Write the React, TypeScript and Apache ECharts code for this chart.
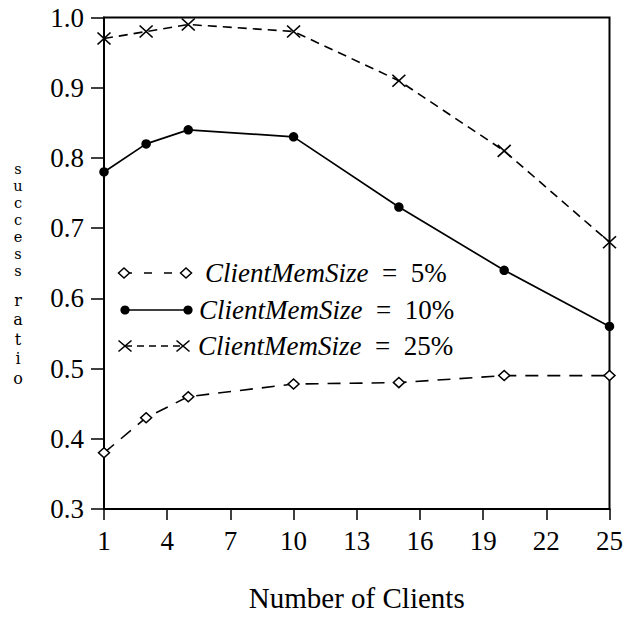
import React, { useEffect, useRef } from "react";
import * as echarts from "echarts";

const clients = [1, 3, 5, 10, 15, 20, 25];
const mem5 = [0.38, 0.43, 0.46, 0.478, 0.48, 0.49, 0.49];
const mem10 = [0.78, 0.82, 0.84, 0.83, 0.73, 0.64, 0.56];
const mem25 = [0.97, 0.98, 0.99, 0.98, 0.91, 0.81, 0.68];
const xTicks = [1, 4, 7, 10, 13, 16, 19, 22, 25];
const legendLabels = ["= 5%", "= 10%", "= 25%"];
const legendName = "ClientMemSize";
const xTitle = "Number of Clients";
const yTitleWords = ["success", "ratio"];

const FONT = "'Liberation Serif', 'Times New Roman', serif";
const YFONT = "'DejaVu Serif', 'Liberation Serif', serif";
const X_SYMBOL = "path://M0,0L10,10M0,10L10,0";

export default function App() {
  const ref = useRef<HTMLDivElement>(null);
  useEffect(() => {
    document.body.style.margin = "0";
    const chart = echarts.init(ref.current!, null, { renderer: "svg" });
    const toPairs = (vals: number[]) => clients.map((c, i) => [c, vals[i]]);

    const rows = [
      { y: 273, x0: 124, x1: 186, tx: 205 },
      { y: 310, x0: 125, x1: 188, tx: 199 },
      { y: 346, x0: 125, x1: 183, tx: 198 },
    ];
    const diamond = (cx: number, cy: number) => ({
      type: "polygon",
      shape: { points: [[cx - 5.5, cy], [cx, cy - 5], [cx + 5.5, cy], [cx, cy + 5]] },
      style: { fill: "#fff", stroke: "#000", lineWidth: 1.5 },
      z: 10,
    });
    const dot = (cx: number, cy: number) => ({
      type: "circle",
      shape: { cx, cy, r: 4.6 },
      style: { fill: "#000" },
      z: 10,
    });
    const cross = (cx: number, cy: number) => ({
      type: "group",
      z: 10,
      children: [
        { type: "line", shape: { x1: cx - 6.5, y1: cy - 5.5, x2: cx + 6.5, y2: cy + 5.5 }, style: { stroke: "#000", lineWidth: 1.6 } },
        { type: "line", shape: { x1: cx - 6.5, y1: cy + 5.5, x2: cx + 6.5, y2: cy - 5.5 }, style: { stroke: "#000", lineWidth: 1.6 } },
      ],
    });
    const markers = [diamond, dot, cross];
    const dashes: any[] = [[8, 12], null, [7, 5]];
    const legendGraphics: any[] = [];
    rows.forEach((r, i) => {
      legendGraphics.push({
        type: "line",
        shape: { x1: r.x0, y1: r.y, x2: r.x1, y2: r.y },
        style: { stroke: "#000", lineWidth: 1.6, lineDash: dashes[i] || undefined },
      });
      legendGraphics.push(markers[i](r.x0, r.y));
      legendGraphics.push(markers[i](r.x1, r.y));
      legendGraphics.push({
        type: "text",
        x: r.tx,
        y: r.y,
        style: {
          text: `{i|${legendName}}{n|  ${legendLabels[i].replace("= ", "=  ")}}`,
          verticalAlign: "middle",
          fill: "#000",
          rich: {
            i: { fontFamily: FONT, fontSize: 27, fontStyle: "italic", fill: "#000" },
            n: { fontFamily: FONT, fontSize: 27, fill: "#000" },
          },
        },
      });
    });

    chart.setOption({
      animation: false,
      backgroundColor: "#fff",
      grid: {
        left: 104,
        right: 14,
        top: 17.5,
        bottom: 87.5,
        show: true,
        borderColor: "#000",
        borderWidth: 2,
        containLabel: false,
      },
      xAxis: {
        type: "value",
        min: 1,
        max: 25,
        name: xTitle,
        nameLocation: "middle",
        nameGap: 74,
        nameTextStyle: { fontFamily: FONT, fontSize: 29, color: "#000" },
        axisLine: { lineStyle: { color: "#000", width: 2 } },
        axisTick: { customValues: xTicks, length: 11, lineStyle: { color: "#000", width: 1.5 } },
        axisLabel: {
          customValues: xTicks,
          fontFamily: FONT,
          fontSize: 27,
          color: "#000",
          margin: 18,
        },
        splitLine: { show: false },
      },
      yAxis: {
        type: "value",
        min: 0.3,
        max: 1.0,
        interval: 0.1,
        axisLine: { lineStyle: { color: "#000", width: 2 } },
        axisTick: { length: 13, lineStyle: { color: "#000", width: 1.5 } },
        axisLabel: {
          fontFamily: FONT,
          fontSize: 27,
          color: "#000",
          margin: 20,
          formatter: (v: number) => v.toFixed(1),
        },
        splitLine: { show: false },
      },
      series: [
        {
          name: `${legendName} ${legendLabels[0]}`,
          type: "line",
          data: toPairs(mem5),
          symbol: "diamond",
          symbolSize: [11, 10],
          showAllSymbol: true,
          lineStyle: { color: "#000", width: 1.6, type: [13, 9] },
          itemStyle: { color: "#fff", borderColor: "#000", borderWidth: 1.5 },
          z: 3,
        },
        {
          name: `${legendName} ${legendLabels[1]}`,
          type: "line",
          data: toPairs(mem10),
          symbol: "circle",
          symbolSize: 9.5,
          lineStyle: { color: "#000", width: 1.7 },
          itemStyle: { color: "#000", borderColor: "#000", borderWidth: 0 },
          z: 3,
        },
        {
          name: `${legendName} ${legendLabels[2]}`,
          type: "line",
          data: toPairs(mem25),
          symbol: X_SYMBOL,
          symbolSize: [13, 12],
          lineStyle: { color: "#000", width: 1.6, type: [9, 6] },
          itemStyle: { color: "#000", borderColor: "#000", borderWidth: 1.6 },
          z: 3,
        },
      ],
      graphic: [
        {
          type: "text",
          x: 18,
          y: 160.5,
          style: {
            text: yTitleWords[0].split("").join("\n"),
            fontFamily: YFONT,
            fontSize: 14.5,
            lineHeight: 17,
            align: "center",
            verticalAlign: "top",
            fill: "#000",
          },
        },
        {
          type: "text",
          x: 18,
          y: 290.25,
          style: {
            text: yTitleWords[1].split("").join("\n"),
            fontFamily: YFONT,
            fontSize: 16,
            lineHeight: 19.5,
            align: "center",
            verticalAlign: "top",
            fill: "#000",
          },
        },
        ...legendGraphics,
      ],
    });
    return () => chart.dispose();
  }, []);
  return <div ref={ref} style={{ width: 626, height: 617 }} />;
}
